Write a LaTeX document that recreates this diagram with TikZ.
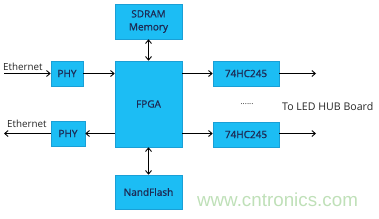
\documentclass[tikz,border=0pt]{standalone}
\usepackage{fontspec}
\setmainfont{Open Sans}
\newfontfamily\boxfont[FakeBold=1]{Open Sans}
\usetikzlibrary{arrows.meta,shadows}
\definecolor{boxfill}{HTML}{1CBDF4}
\definecolor{boxline}{HTML}{1A9FD6}
\definecolor{txt}{HTML}{1C2B55}
\definecolor{wm}{HTML}{BFE0B8}
\tikzset{
  blk/.style={draw=boxline, line width=0.6pt, fill=boxfill, text=txt, inner sep=0pt, align=center,
     drop shadow={shadow xshift=1.2pt, shadow yshift=-1.2pt, fill=black!35, opacity=0.6}},
  conn/.style={-{Straight Barb[length=3.5pt,width=6pt]}, line width=0.9pt, black},
  dconn/.style={{Straight Barb[length=3.5pt,width=6pt]}-{Straight Barb[length=3.5pt,width=6pt]}, line width=0.9pt, black},
  lbl/.style={text=black!85, inner sep=0pt}
}
\begin{document}
\begin{tikzpicture}[x=1pt,y=-1pt]
\useasboundingbox (0,0) rectangle (379,218);
\newcommand{\blkat}[6]{\node[blk, minimum width=#4-#2, minimum height=#5-#3, font=\boxfont\fontsize{10}{12}\selectfont] (#1) at ({(#2+#4)/2},{(#3+#5)/2}) {#6};}
\blkat{sdram}{115}{4}{182}{39}{SDRAM\\[1pt]Memory}
\blkat{fpga}{115}{61}{182}{147}{FPGA}
\blkat{phya}{51}{61}{83}{86}{PHY}
\blkat{phyb}{51}{121}{85}{146}{PHY}
\blkat{nand}{115}{175}{182}{209}{NandFlash}
\blkat{hca}{213}{61}{279}{86}{74HC245}
\blkat{hcb}{213}{122}{279}{147}{74HC245}
\coordinate (ina) at (4,73.5);
\coordinate (outb) at (4,133.5);
\coordinate (oa) at (316,73.5);
\coordinate (ob) at (316,133.5);
\draw[conn] (ina) -- (phya.west|-ina);
\draw[conn] (phya.east|-ina) -- (fpga.west|-ina);
\draw[conn] (fpga.east|-ina) -- (hca.west|-ina);
\draw[conn] (hca.east|-oa) -- (oa);
\draw[conn] (fpga.west|-outb) -- (phyb.east|-outb);
\draw[conn] (phyb.west|-outb) -- (outb);
\draw[conn] (fpga.east|-ob) -- (hcb.west|-ob);
\draw[conn] (hcb.east|-ob) -- (ob);
\draw[dconn] (sdram.south) -- (fpga.north);
\draw[dconn] (fpga.south) -- (nand.north);
\node[lbl, font=\fontsize{9.8}{11}\selectfont, anchor=base west] (eth1) at (3,70) {Ethernet};
\node[lbl, font=\fontsize{9.8}{11}\selectfont, anchor=base west] (eth2) at (7,127) {Ethernet};
\node[lbl, font=\fontsize{8}{9}\selectfont] (dots) at (247,104.5) {......};
\node[lbl, font=\fontsize{10.6}{12}\selectfont, anchor=base west] (hub) at (282,110) {To LED HUB Board};
\node[text=wm, font=\fontspec{Liberation Sans}\fontsize{18.8}{20}\selectfont, inner sep=0pt] (wmark) at (277.5,200) {www.cntronics.com};
\end{tikzpicture}
\end{document}
